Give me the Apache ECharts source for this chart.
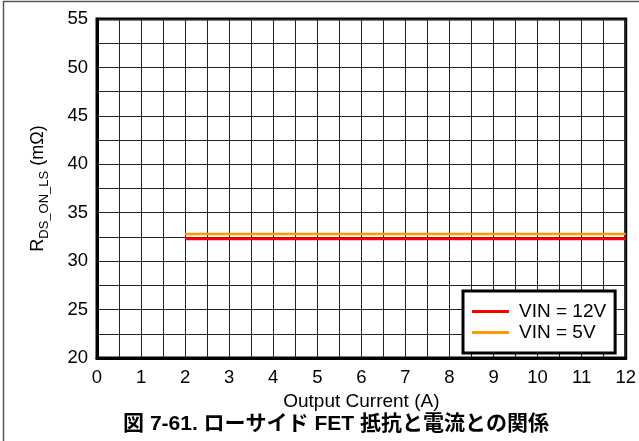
<!DOCTYPE html>
<html>
<head>
<meta charset="utf-8">
<script src="https://cdn.jsdelivr.net/npm/echarts@6/dist/echarts.min.js"></script>
<style>html,body{margin:0;padding:0;background:#fff}#c{width:639px;height:441px}</style>
</head>
<body>
<div id="c"></div>
<script>
const seriesNames = ['VIN = 12V', 'VIN = 5V'];
const seriesColors = ['#ff0000', '#ff9900'];
const current12V = [2, 12];
const rds12V = [32.3, 32.3];
const current5V = [2, 12];
const rds5V = [32.8, 32.8];
const xTicks = [0, 1, 2, 3, 4, 5, 6, 7, 8, 9, 10, 11, 12];
const yTicks = [20, 25, 30, 35, 40, 45, 50, 55];
const xTitle = 'Output Current (A)';
const caption = '図 7-61. ローサイド FET 抵抗と電流との関係';

const font = "'Liberation Sans', Arial, sans-serif";
const chart = echarts.init(document.getElementById('c'), null, {renderer: 'canvas'});
const pair = (xs, ys) => xs.map((x, i) => [x, ys[i]]);

chart.setOption({
  animation: false,
  backgroundColor: '#fff',
  grid: {left: 97, right: 11, top: 19, bottom: 83, show: true, borderColor: '#000', borderWidth: 3, backgroundColor: 'transparent'},
  xAxis: {
    type: 'value', min: xTicks[0], max: xTicks[xTicks.length - 1], interval: 1,
    name: xTitle, nameLocation: 'middle', nameGap: 31,
    nameTextStyle: {fontFamily: font, fontSize: 19, color: '#000'},
    axisLine: {show: true, lineStyle: {color: '#000', width: 3}},
    axisTick: {show: false},
    axisLabel: {fontFamily: font, fontSize: 18.5, color: '#000', margin: 10},
    splitLine: {show: true, lineStyle: {color: '#222', width: 1}},
    minorTick: {show: false, splitNumber: 2},
    minorSplitLine: {show: true, lineStyle: {color: '#222', width: 1}}
  },
  yAxis: {
    type: 'value', min: yTicks[0], max: yTicks[yTicks.length - 1], interval: 5,
    name: '{r|R}{s|DS_ON_LS}{r| (mΩ)}', nameLocation: 'middle', nameGap: 50, nameRotate: 90,
    nameTextStyle: {
      fontFamily: font, color: '#000',
      rich: {
        r: {fontFamily: font, fontSize: 18, color: '#000', verticalAlign: 'bottom'},
        s: {fontFamily: font, fontSize: 13, color: '#000', verticalAlign: 'bottom', padding: [0, 0, -4, 0]}
      }
    },
    axisLine: {show: true, lineStyle: {color: '#000', width: 3}},
    axisTick: {show: false},
    axisLabel: {fontFamily: font, fontSize: 18.5, color: '#000', margin: 9},
    splitLine: {show: true, lineStyle: {color: '#222', width: 1}},
    minorTick: {show: false, splitNumber: 2},
    minorSplitLine: {show: true, lineStyle: {color: '#222', width: 1}}
  },
  legend: {
    orient: 'vertical', left: 463, top: 291,
    padding: [11, 9, 11, 9],
    backgroundColor: '#fff', borderColor: '#000', borderWidth: 3,
    icon: 'rect', itemWidth: 37, itemHeight: 3, itemGap: 2,
    textStyle: {fontFamily: font, fontSize: 19, color: '#000', padding: [0, 0, 0, 5]},
    data: seriesNames
  },
  series: [
    {name: seriesNames[1], type: 'line', data: pair(current5V, rds5V), symbol: 'none', color: seriesColors[1], lineStyle: {width: 2.5, color: seriesColors[1]}, z: 3},
    {name: seriesNames[0], type: 'line', data: pair(current12V, rds12V), symbol: 'none', color: seriesColors[0], lineStyle: {width: 3, color: seriesColors[0]}, z: 4}
  ],
  graphic: [
    {type: 'line', shape: {x1: 3, y1: 1.5, x2: 639, y2: 1.5}, style: {stroke: '#555', lineWidth: 1.5}},
    {type: 'line', shape: {x1: 3.5, y1: 1, x2: 3.5, y2: 441}, style: {stroke: '#555', lineWidth: 1.5}},
    {type: 'text', x: 336, y: 424, style: {text: caption, align: 'center', verticalAlign: 'middle', font: "bold 21px 'Liberation Sans', 'Noto Sans CJK JP', sans-serif", fill: '#000'}}
  ]
});
</script>
</body>
</html>
